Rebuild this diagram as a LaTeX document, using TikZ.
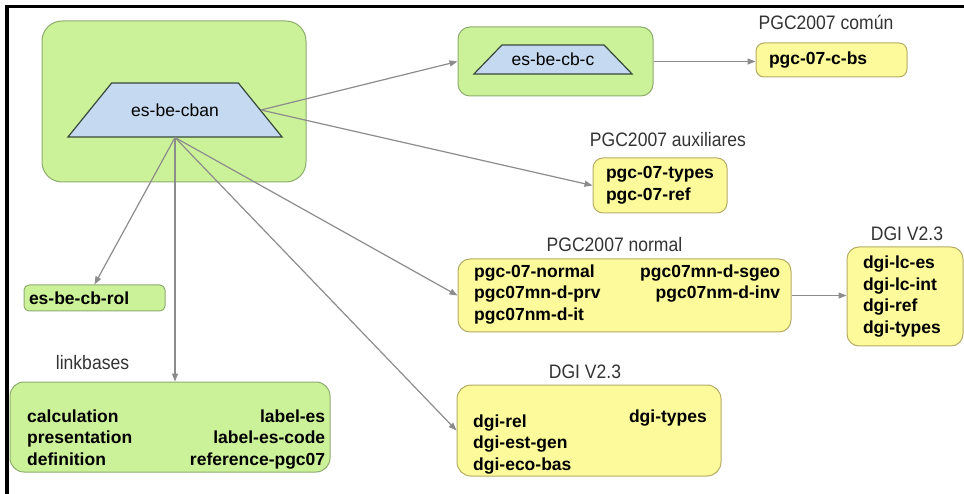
\documentclass[tikz,border=0pt]{standalone}
\usepackage{fontspec}
\setmainfont{Liberation Sans}
\newfontfamily\titlefont[FakeStretch=0.9]{Liberation Sans}
\usetikzlibrary{positioning,arrows.meta,shapes.geometric}
\definecolor{greenfill}{RGB}{204,242,153}
\definecolor{greenline}{RGB}{140,172,110}
\definecolor{yellowfill}{RGB}{252,250,155}
\definecolor{yellowline}{RGB}{180,172,100}
\definecolor{trapfill}{RGB}{197,218,240}
\definecolor{trapline}{RGB}{55,72,60}
\definecolor{arrowgray}{RGB}{140,140,140}

\begin{document}
\begin{tikzpicture}[x=1pt, y=-1pt,
    gbox/.style={draw=greenline, fill=greenfill, line width=1pt, rounded corners=12pt},
    ybox/.style={draw=yellowline, fill=yellowfill, line width=1pt, rounded corners=12pt},
    trap/.style={trapezium, trapezium stretches body=true, draw=trapline, fill=trapfill, line width=1.2pt, font=\fontsize{17.5}{20}\selectfont},
    item/.style={font=\fontsize{17.5}{21.7}\selectfont\bfseries, align=left},
    txt/.style={item, inner sep=0pt},
    grouptitle/.style={font=\titlefont\fontsize{19.5}{22}\selectfont, text=black!80},
    arrow/.style={-{Triangle[length=8pt, width=6pt]}, draw=arrowgray, line width=1.2pt}
]
\useasboundingbox (0,0) rectangle (964,494);
% Frame
\draw[line width=3.5pt] (7,494) -- (7,6.5) -- (964,6.5);

% Main taxonomy
\node[gbox, rounded corners=20pt, minimum width=264pt, minimum height=161pt] (main) at (174,101.5) {};
\node[trap, trapezium angle=51, inner ysep=20.5pt, minimum width=214pt] (cban) at (175,110) {es-be-cban};

% Common part
\node[gbox, minimum width=195pt, minimum height=69pt] (cbcbox) at (555.5,61.5) {};
\node[trap, trapezium angle=46, inner ysep=8pt, minimum width=158pt] (cbc) at (553,59.5) {es-be-cb-c};
\node[ybox, rounded corners=8pt, minimum width=151pt, minimum height=34pt, item, text width=125pt, inner xsep=13pt] (cbs) at (831.5,60) {pgc-07-c-bs};
\node[grouptitle] (cbstitle) at (826,22) {PGC2007 común};

% PGC2007
\node[ybox, rounded corners=10pt, minimum width=134pt, minimum height=55pt, item] (aux) at (660,185.5) {pgc-07-types\\pgc-07-ref};
\node[grouptitle] (auxtitle) at (668,140) {PGC2007 auxiliares};
\node[ybox, minimum width=333pt, minimum height=73pt] (normal) at (624.5,295.5) {};
\node[txt, anchor=west] (normaltxt) at (474,294.5) {\begin{tabular*}{306pt}{@{}l@{\extracolsep{\fill}}r@{}}
  pgc-07-normal & pgc07mn-d-sgeo\\
  pgc07mn-d-prv & pgc07nm-d-inv\\
  pgc07nm-d-it &
\end{tabular*}};
\node[grouptitle] (normaltitle) at (614.5,245) {PGC2007 normal};

% DGI
\node[ybox, minimum width=116pt, minimum height=99pt, item, text width=84pt, inner xsep=16pt] (dgir) at (905,296.5) {dgi-lc-es\\dgi-lc-int\\dgi-ref\\dgi-types};
\node[grouptitle] (dgirtitle) at (907,234) {DGI V2.3};
\node[ybox, rounded corners=14pt, minimum width=264pt, minimum height=91pt] (dgib) at (589,430.5) {};
\node[txt, anchor=west] (dgibleft) at (473,444.5) {dgi-rel\\dgi-est-gen\\dgi-eco-bas};
\node[txt, anchor=east] (dgibright) at (707,418) {dgi-types};
\node[grouptitle] (dgibtitle) at (585,372) {DGI V2.3};

% Roles and linkbases
\node[gbox, rounded corners=5pt, minimum width=141pt, minimum height=26pt, item, text width=131pt, inner xsep=5pt] (rol) at (94.5,298) {es-be-cb-rol};
\node[gbox, rounded corners=14pt, minimum width=320pt, minimum height=90pt] (link) at (170,427) {};
\node[txt, anchor=west] (linktxt) at (27,439.5) {\begin{tabular*}{298pt}{@{}l@{\extracolsep{\fill}}r@{}}
  calculation & label-es\\
  presentation & label-es-code\\
  definition & reference-pgc07
\end{tabular*}};
\node[grouptitle] (linktitle) at (92.5,363) {linkbases};

% Arrows
\draw[arrow] (cban.right side) -- (cbcbox.west);
\draw[arrow] (cban.right side) -- (aux.west);
\draw[arrow] (cban.bottom side) -- (rol.north);
\draw[arrow] (cban.bottom side) -- (cban.bottom side |- link.north);
\draw[arrow] (cban.bottom side) -- (normal.west);
\draw[arrow] (cban.bottom side) -- (dgib.west);
\draw[arrow] (cbcbox.east) -- (cbcbox.east -| cbs.west);
\draw[arrow] (normal.east) -- (normal.east -| dgir.west);
\end{tikzpicture}
\end{document}
